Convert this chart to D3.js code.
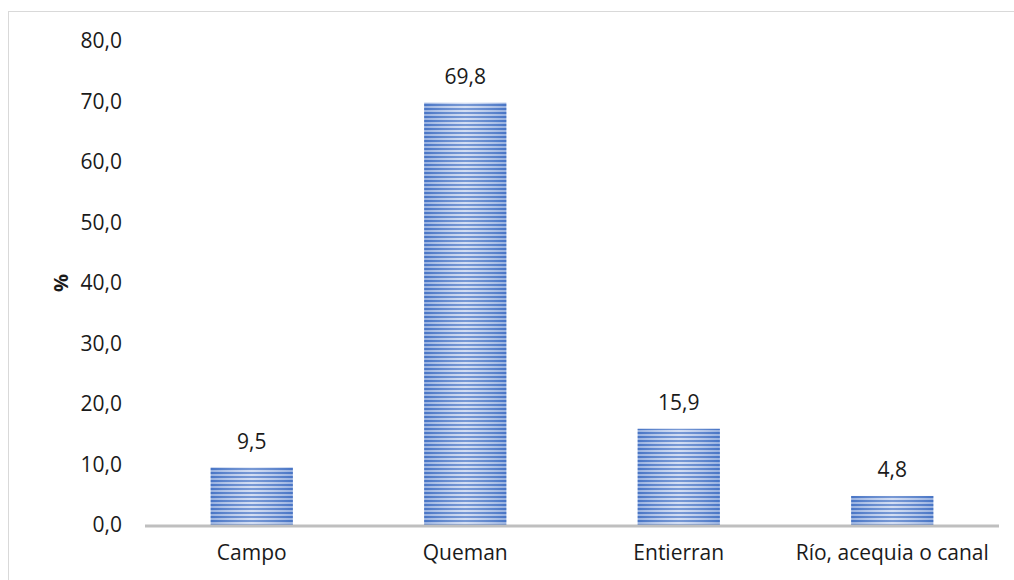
<!DOCTYPE html>
<html>
<head>
<meta charset="utf-8">
<script src="https://cdn.jsdelivr.net/npm/d3@7"></script>
<style>
  html, body { margin: 0; padding: 0; background: #fff; }
  svg { display: block; font-family: "Open Sans", "Liberation Sans", sans-serif; }
</style>
</head>
<body>
<svg id="chart" width="1014" height="580"></svg>
<script>
// Destination of waste, percentages per category
const categories = ["Campo", "Queman", "Entierran", "Río, acequia o canal"];
const values = [9.5, 69.8, 15.9, 4.8];
const yTicks = [0, 10, 20, 30, 40, 50, 60, 70, 80];
const yTitle = "%";

const W = 1014, H = 580;
const margin = { left: 145, right: 15, top: 41, bottom: 55 };
const FS = 21;
const svg = d3.select("#chart");

const fmt = v => d3.format(".1f")(v).replace(".", ",");

// Outer frame
svg.append("rect")
  .attr("x", 8.5).attr("y", 11.5)
  .attr("width", W + 10).attr("height", H + 10)
  .attr("fill", "none").attr("stroke", "#d9d9d9").attr("stroke-width", 1);

// Striped fill for the bars
const defs = svg.append("defs");
const pat = defs.append("pattern")
  .attr("id", "stripes").attr("patternUnits", "userSpaceOnUse")
  .attr("width", 8).attr("height", 4);
pat.append("rect").attr("width", 8).attr("height", 4).attr("fill", "#c5d3ef");
pat.append("rect").attr("y", 0).attr("width", 8).attr("height", 2).attr("fill", "#4a76c6");

const grad = defs.append("linearGradient").attr("id", "shade")
  .attr("x1", 0).attr("x2", 1).attr("y1", 0).attr("y2", 0);
grad.append("stop").attr("offset", "0%").attr("stop-color", "#4472c4").attr("stop-opacity", 0.35);
grad.append("stop").attr("offset", "50%").attr("stop-color", "#ffffff").attr("stop-opacity", 0.25);
grad.append("stop").attr("offset", "100%").attr("stop-color", "#4472c4").attr("stop-opacity", 0.35);

const x = d3.scaleBand()
  .domain(categories)
  .range([margin.left, W - margin.right])
  .paddingInner(0.615).paddingOuter(0.3075);

const y = d3.scaleLinear().domain([0, 80]).range([H - margin.bottom, margin.top]);

// Y axis labels
svg.append("g").selectAll("text")
  .data(yTicks).join("text")
  .attr("x", 122).attr("y", d => y(d))
  .attr("dy", "0.35em")
  .attr("text-anchor", "end")
  .attr("font-size", FS).attr("fill", "#1a1a1a")
  .text(d => fmt(d));

// Y axis title
svg.append("text")
  .attr("transform", `translate(61,${y(40)}) rotate(-90)`)
  .attr("text-anchor", "middle").attr("dy", "0.35em")
  .attr("font-size", FS - 1).attr("font-weight", "bold").attr("fill", "#1a1a1a")
  .text(yTitle);

// Bars
const bars = svg.append("g");
bars.selectAll("rect.bar")
  .data(values).join("rect").attr("class", "bar")
  .attr("x", (d, i) => x(categories[i]))
  .attr("width", x.bandwidth())
  .attr("y", d => y(d))
  .attr("height", d => y(0) - y(d))
  .attr("fill", "url(#stripes)");
bars.selectAll("rect.shade")
  .data(values).join("rect").attr("class", "shade")
  .attr("x", (d, i) => x(categories[i]))
  .attr("width", x.bandwidth())
  .attr("y", d => y(d))
  .attr("height", d => y(0) - y(d))
  .attr("fill", "url(#shade)");

// Value labels
svg.append("g").selectAll("text")
  .data(values).join("text")
  .attr("x", (d, i) => x(categories[i]) + x.bandwidth() / 2)
  .attr("y", d => y(d) - 19)
  .attr("text-anchor", "middle")
  .attr("font-size", FS).attr("fill", "#1a1a1a")
  .text(d => fmt(d));

// X axis baseline
svg.append("line")
  .attr("x1", margin.left).attr("x2", W - margin.right)
  .attr("y1", y(0) + 1).attr("y2", y(0) + 1)
  .attr("stroke", "#bfbfbf").attr("stroke-width", 3);

// Category labels
svg.append("g").selectAll("text")
  .data(categories).join("text")
  .attr("x", d => x(d) + x.bandwidth() / 2)
  .attr("y", y(0) + 35)
  .attr("text-anchor", "middle")
  .attr("font-size", FS).attr("fill", "#1a1a1a")
  .text(d => d);
</script>
</body>
</html>
